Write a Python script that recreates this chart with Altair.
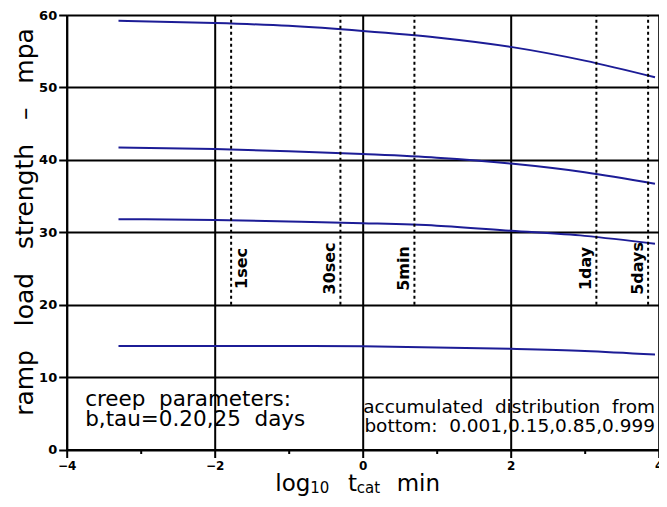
import altair as alt
import pandas as pd

# ---- data ----
x_pts = [-3.3, -2.0, -1.0, 0.0, 1.0, 2.0, 3.0, 3.95]
p999 = [59.2, 58.9, 58.5, 57.8, 56.9, 55.6, 53.7, 51.4]
p85 = [41.7, 41.5, 41.2, 40.8, 40.3, 39.5, 38.3, 36.7]
p15 = [31.8, 31.7, 31.5, 31.25, 30.9, 30.2, 29.5, 28.4]
p001 = [14.3, 14.3, 14.3, 14.25, 14.1, 13.9, 13.6, 13.1]

marker_labels = ["1sec", "30sec", "5min", "1day", "5days"]
marker_x = [-1.778, -0.301, 0.699, 3.158, 3.857]
marker_side = ["right", "left", "left", "left", "left"]
marker_y0, marker_y1, marker_label_y = 20, 60, 25

x_ticks = [-4, -3, -2, -1, 0, 1, 2, 3, 4]
y_ticks = [0, 10, 20, 30, 40, 50, 60]

left_note = ["creep  parameters:", "b,tau=0.20,25  days"]
left_note_x = -3.75
left_note_y = 6.0
right_note = ["accumulated  distribution  from", "bottom:  0.001,0.15,0.85,0.999"]
right_note_x = 3.95
right_note_y = 5.0

FONT = "DejaVu Sans"
BLUE = "#1c1c96"

rows = []
for name, vals in [("p001", p001), ("p15", p15), ("p85", p85), ("p999", p999)]:
    for xv, yv in zip(x_pts, vals):
        rows.append({"x": xv, "y": yv, "s": name})
lines_df = pd.DataFrame(rows)

mark_df = pd.DataFrame({"x": marker_x, "y": [marker_y0] * 5, "y2": [marker_y1] * 5,
                        "label": marker_labels, "side": marker_side, "ly": [marker_label_y] * 5})

xscale = alt.Scale(domain=[-4, 4], nice=False, zero=False)
yscale = alt.Scale(domain=[0, 60], nice=False, zero=False)

even = "datum.value % 2 === 0"
x_axis = alt.Axis(
    values=x_ticks, title=None, grid=True, gridColor="black", gridWidth=2, format="d",
    gridOpacity={"condition": {"test": even, "value": 1}, "value": 0},
    tickSize={"condition": {"test": even, "value": 8}, "value": 4},
    tickColor="black", tickWidth=2, domainColor="black", domainWidth=2,
    labelExpr="datum.value % 2 === 0 ? datum.label : ''",
    labelFont=FONT, labelFontWeight="bold", labelFontSize=12, labelColor="black",
    labelPadding=3, labelFlush=False,
)
y_axis = alt.Axis(
    values=y_ticks, grid=True, gridColor="black", gridWidth=2,
    tickSize=8, tickColor="black", tickWidth=2, domainColor="black", domainWidth=2,
    labelFont=FONT, labelFontWeight="bold", labelFontSize=13, labelColor="black",
    labelPadding=2,
    title="ramp \u00a0 load \u00a0 strength \u00a0 \u2013 \u00a0 mpa",
    titleFont=FONT, titleFontSize=25, titleFontWeight="normal", titleColor="black",
    titleX=-34, titleY=206.5, titleAngle=270, titleBaseline="alphabetic", titleAlign="center",
)

lines = alt.Chart(lines_df).mark_line(color=BLUE, strokeWidth=2, interpolate="monotone").encode(
    x=alt.X("x:Q", scale=xscale, axis=x_axis),
    y=alt.Y("y:Q", scale=yscale, axis=y_axis),
    detail="s:N",
)

rules = alt.Chart(mark_df).mark_rule(color="black", strokeWidth=2, strokeDash=[3, 3]).encode(
    x="x:Q", y="y:Q", y2="y2:Q"
)

lab_left = alt.Chart(mark_df).transform_filter("datum.side === 'left'").mark_text(
    angle=270, align="center", baseline="bottom", dy=-2, font=FONT, fontWeight="bold",
    fontSize=16, color="black"
).encode(x="x:Q", y="ly:Q", text="label:N")

lab_right = alt.Chart(mark_df).transform_filter("datum.side === 'right'").mark_text(
    angle=270, align="center", baseline="top", dy=3, font=FONT, fontWeight="bold",
    fontSize=16, color="black"
).encode(x="x:Q", y="ly:Q", text="label:N")

def nb(s):
    return s.replace("  ", " \u00a0")

ln_df = pd.DataFrame({"x": [left_note_x], "y": [left_note_y],
                      "t": ["\n".join(nb(s) for s in left_note)]})
rn_df = pd.DataFrame({"x": [right_note_x], "y": [right_note_y],
                      "t": ["\n".join(nb(s) for s in right_note)]})

left_txt = alt.Chart(ln_df).mark_text(align="left", baseline="alphabetic", font=FONT,
                                      fontSize=21.5, color="black", lineBreak="\n",
                                      lineHeight=20).encode(
    x="x:Q", y="y:Q", text="t:N")
right_txt = alt.Chart(rn_df).mark_text(align="right", baseline="alphabetic", font=FONT,
                                       fontSize=18.5, color="black", lineBreak="\n",
                                       lineHeight=19).encode(
    x="x:Q", y="y:Q", text="t:N")

# x-axis title "log10 t_cat min" with subscripts
title_parts = ["log", "10", "t", "cat", "min"]
title_x = [-1.18, -0.71, -0.2, -0.08, 0.46]
title_y = [-5.7, -6.05, -5.7, -6.05, -5.7]
title_size = [23, 15, 23, 15, 23]
tdf = pd.DataFrame({"x": title_x, "y": title_y, "t": title_parts, "fs": title_size})
xtitle = alt.Chart(tdf).mark_text(align="left", baseline="alphabetic", font=FONT,
                                  color="black").encode(
    x="x:Q", y="y:Q", text="t:N",
    size=alt.Size("fs:Q", scale=None, legend=None),
)

chart = alt.layer(lines, rules, lab_left, lab_right, left_txt, right_txt, xtitle).properties(
    width=592, height=434.5,
    autosize=alt.AutoSizeParams(type="none"),
    padding={"left": 58.7, "top": 7, "right": 0, "bottom": 47.5},
).configure_view(stroke="black", strokeWidth=2).configure(background="white")

chart.save("out.html", embed_options={"renderer": "svg", "actions": False})
